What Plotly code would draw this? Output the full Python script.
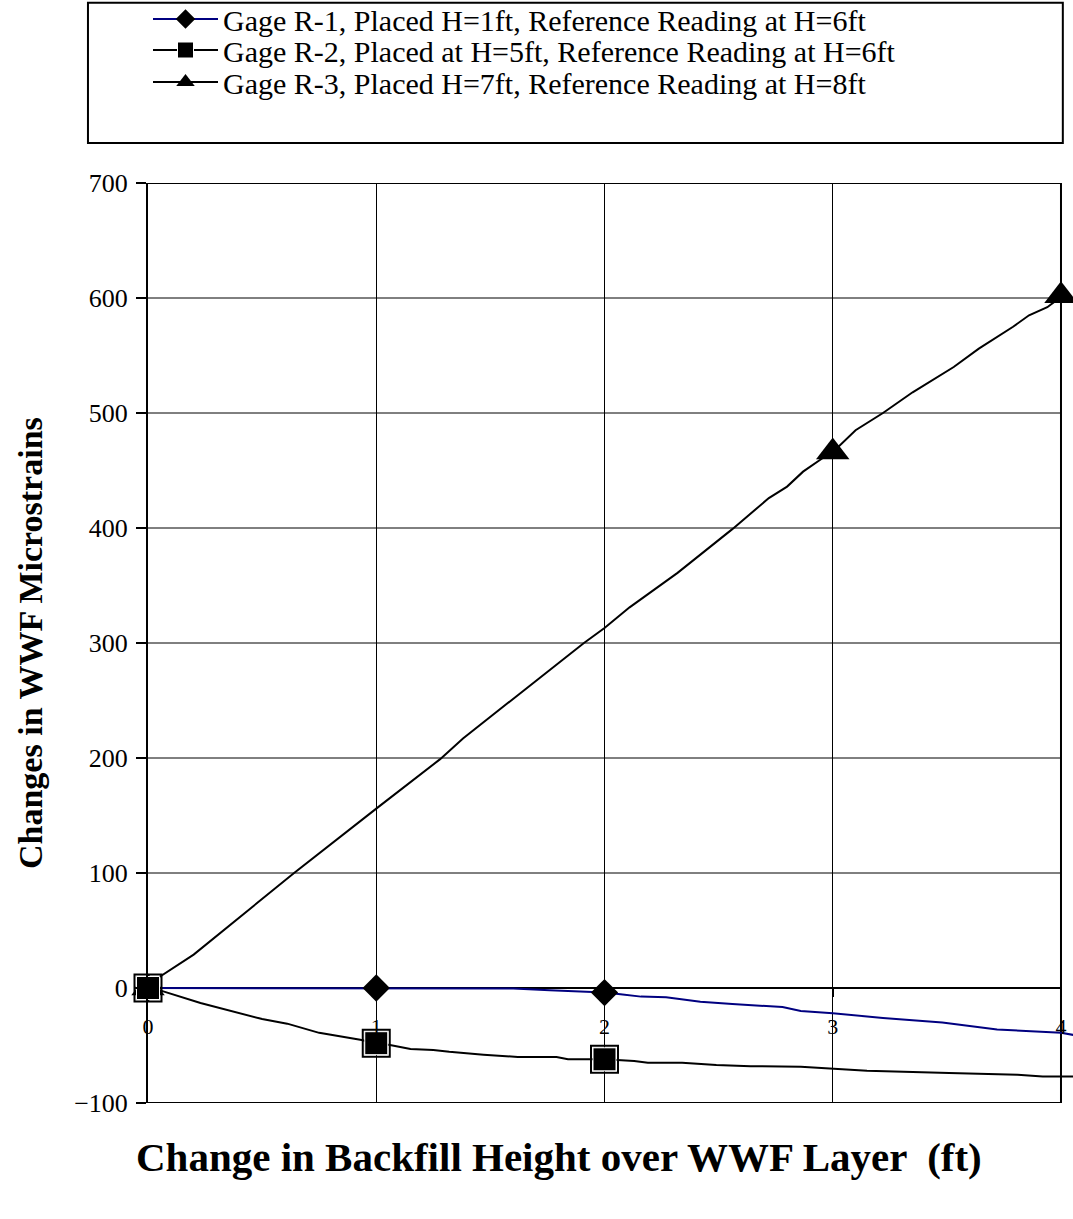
import plotly.graph_objects as go

FONT = "Liberation Serif, Times New Roman, serif"
NAVY = "#000080"
BLACK = "#000000"

# ---------------------------------------------------------------------------
# Data
# ---------------------------------------------------------------------------

r1_x = [0, 0.5, 1.0, 1.5, 1.6, 1.76, 1.92, 2.0, 2.07, 2.16, 2.27, 2.34, 2.42,
        2.56, 2.64, 2.78, 2.86, 3.0, 3.22, 3.48, 3.72, 4.0, 4.06]
r1_y = [0, 0, 0, 0, -0.5, -2, -3.5, -4, -5.5, -7.5, -8, -10, -12,
        -14, -15, -16.5, -20, -22, -26, -30, -36, -39, -41]
r1_mark_x = [0, 1, 2]
r1_mark_y = [0, 0, -4]

r2_x = [0, 0.06, 0.23, 0.5, 0.61, 0.75, 0.93, 1.0, 1.06, 1.15, 1.25, 1.32,
        1.47, 1.62, 1.79, 1.84, 2.0, 2.13, 2.19, 2.34, 2.49, 2.64, 2.86, 3.0,
        3.15, 3.51, 3.81, 3.92, 4.06]
r2_y = [0, -2.5, -13, -27, -31, -39, -45, -48, -49.5, -53, -54, -55.5,
        -58, -60, -60, -62, -62, -63.5, -65, -65, -67, -68, -68.5, -70.5,
        -72, -74, -75.5, -77, -77]
r2_mark_x = [0, 1, 2]
r2_mark_y = [0, -48, -62]

r3_x = [0, 0.05, 0.2, 0.64, 1.0, 1.28, 1.38, 1.91, 2.0, 2.11, 2.32, 2.56,
        2.72, 2.80, 2.87, 2.95, 3.0, 3.1, 3.22, 3.35, 3.53, 3.64, 3.79, 3.86,
        3.94, 4.0]
r3_y = [0, 9.6, 29, 100, 156, 199, 217, 300, 313, 331, 361, 399,
        426, 436, 449, 460, 466, 485, 500, 518, 540, 556, 575, 585,
        592, 601]
r3_mark_x = [0, 3, 4]
r3_mark_y = [0, 466, 602]

names = [
    "Gage R-1, Placed H=1ft, Reference Reading at H=6ft",
    "Gage R-2, Placed at H=5ft, Reference Reading at H=6ft",
    "Gage R-3, Placed H=7ft, Reference Reading at H=8ft",
]

x_ticks = [0, 1, 2, 3, 4]
y_ticks = [-100, 0, 100, 200, 300, 400, 500, 600, 700]
X_MAX = 4
X_END = 4.0526  # line data runs a little past the frame, as in the source

# ---------------------------------------------------------------------------
# Figure
# ---------------------------------------------------------------------------

fig = go.Figure()

# legend proxies, one legend per row so the row spacing can be tight
legend_styles = [
    (NAVY, "diamond", 15, BLACK),
    (BLACK, "square", 16, "white"),
    (BLACK, "triangle-up", 16, BLACK),
]
legend_ids = ["legend", "legend2", "legend3"]
for i, (lc, sym, sz, mlc) in enumerate(legend_styles):
    fig.add_trace(go.Scatter(
        x=[None], y=[None], mode="lines+markers", name=names[i],
        line={"color": lc, "width": 2},
        marker={"symbol": sym, "size": sz, "color": BLACK,
                "line": {"color": mlc, "width": 1 if mlc == "white" else 0}},
        legend=legend_ids[i],
    ))

line_kw = {"mode": "lines", "showlegend": False, "hoverinfo": "skip"}
fig.add_trace(go.Scatter(x=r1_x, y=r1_y, line={"color": NAVY, "width": 2}, **line_kw))
fig.add_trace(go.Scatter(x=r2_x, y=r2_y, line={"color": BLACK, "width": 2}, **line_kw))
fig.add_trace(go.Scatter(x=r3_x, y=r3_y, line={"color": BLACK, "width": 2}, **line_kw))

mark_kw = {"mode": "markers", "showlegend": False, "cliponaxis": False}
fig.add_trace(go.Scatter(x=r1_mark_x, y=r1_mark_y,
                         marker={"symbol": "diamond", "size": 21, "color": BLACK}, **mark_kw))
fig.add_trace(go.Scatter(x=r3_mark_x, y=r3_mark_y,
                         marker={"symbol": "triangle-up", "size": 29, "color": BLACK}, **mark_kw))
# R-2 squares: black outer frame, white ring, black core
fig.add_trace(go.Scatter(x=r2_mark_x, y=r2_mark_y,
                         marker={"symbol": "square-open", "size": 27, "color": BLACK,
                                 "line": {"color": BLACK, "width": 2}}, **mark_kw))
fig.add_trace(go.Scatter(x=r2_mark_x, y=r2_mark_y,
                         marker={"symbol": "square", "size": 23, "color": BLACK,
                                 "line": {"color": "white", "width": 1}}, **mark_kw))

# horizontal gridlines and frame stop at x = 4
shapes = []
for v in y_ticks:
    shapes.append({"type": "line", "xref": "x", "yref": "y", "x0": 0, "x1": X_MAX,
                   "y0": v, "y1": v, "layer": "below",
                   "line": {"color": BLACK, "width": 2 if v in (0, -100, 700) else 1}})
shapes.append({"type": "line", "xref": "x", "yref": "y", "x0": X_MAX, "x1": X_MAX,
               "y0": y_ticks[0], "y1": y_ticks[-1], "layer": "below",
               "line": {"color": BLACK, "width": 2}})
# legend box
shapes.append({"type": "rect", "xref": "paper", "yref": "paper",
               "x0": -0.0649, "x1": 0.989, "y0": 1.0435, "y1": 1.196,
               "line": {"color": BLACK, "width": 2}})

legend_base = {
    "x": 0.0, "xanchor": "left", "yanchor": "middle",
    "font": {"size": 30, "family": FONT},
    "itemwidth": 65,
    "bgcolor": "rgba(0,0,0,0)",
}

fig.update_layout(
    width=1073,
    height=1219,
    margin={"l": 148, "r": 0, "t": 183, "b": 116, "autoexpand": False},
    paper_bgcolor="white",
    plot_bgcolor="white",
    font={"family": FONT, "color": BLACK},
    shapes=shapes,
    showlegend=True,
    legend={**legend_base, "y": 1 + (183 - 19) / 920},
    legend2={**legend_base, "y": 1 + (183 - 50) / 920},
    legend3={**legend_base, "y": 1 + (183 - 82) / 920},
    xaxis={
        "range": [0, X_END],
        "tickvals": x_ticks,
        "ticktext": [str(v) for v in x_ticks],
        "showgrid": True, "gridcolor": BLACK, "gridwidth": 1,
        "zeroline": False, "showline": False,
        "anchor": "free", "position": 0.125,
        "ticks": "outside", "ticklen": 8, "tickwidth": 2, "tickcolor": BLACK,
        "ticklabelstandoff": 11,
        "tickfont": {"size": 22, "family": FONT},
    },
    yaxis={
        "range": [y_ticks[0], y_ticks[-1]],
        "tickvals": y_ticks,
        "showgrid": False, "zeroline": False,
        "showline": True, "linecolor": BLACK, "linewidth": 2,
        "ticks": "outside", "ticklen": 10, "tickwidth": 2, "tickcolor": BLACK,
        "ticklabelstandoff": 3,
        "tickfont": {"size": 26, "family": FONT},
    },
    annotations=[
        {"text": "<b>Changes in WWF Microstrains</b>", "xref": "paper", "yref": "paper",
         "x": (30 - 148) / 925, "y": 0.5, "xanchor": "center", "yanchor": "middle",
         "textangle": -90, "showarrow": False,
         "font": {"size": 34, "family": FONT}},
        {"text": "<b>Change in Backfill Height over WWF Layer \u00a0(ft)</b>",
         "xref": "paper", "yref": "paper",
         "x": (559 - 148) / 925, "y": -(1157 - 1103) / 920,
         "xanchor": "center", "yanchor": "middle", "showarrow": False,
         "font": {"size": 41, "family": FONT}},
    ],
)

fig.write_html("out.html", config={"displayModeBar": False},
               post_script="document.body.style.margin='0';")
